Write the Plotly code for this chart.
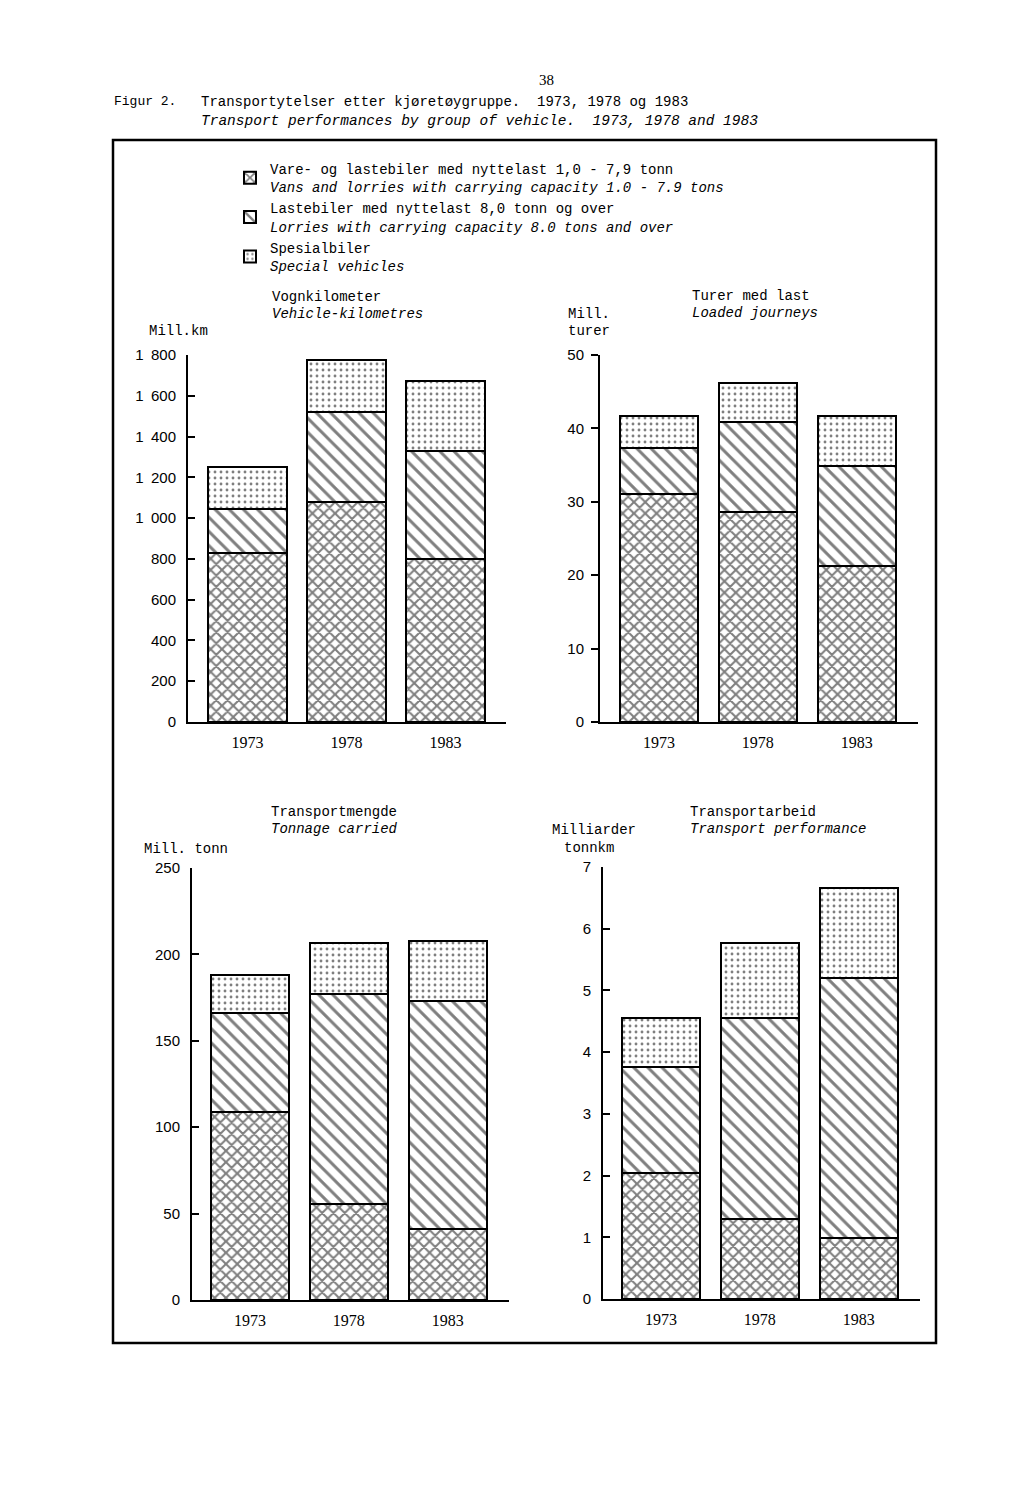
import plotly.graph_objects as go

W, H = 1024, 1487
OFF = 8  # page body margin offset

years = ["1973", "1978", "1983"]
series_names = [
    "Vare- og lastebiler med nyttelast 1,0 - 7,9 tonn<br><i>Vans and lorries with carrying capacity 1.0 - 7.9 tons</i>",
    "Lastebiler med nyttelast 8,0 tonn og over<br><i>Lorries with carrying capacity 8.0 tons and over</i>",
    "Spesialbiler<br><i>Special vehicles</i>",
]

# Vehicle-kilometres (mill. km)
vkm_small = [829, 1079, 799]
vkm_large = [216, 441, 530]
vkm_special = [206, 255, 343]

# Loaded journeys (mill. turer)
trips_small = [31.1, 28.6, 21.3]
trips_large = [6.2, 12.3, 13.6]
trips_special = [4.4, 5.3, 6.8]

# Tonnage carried (mill. tonn)
ton_small = [108.8, 55.6, 41.0]
ton_large = [57.2, 121.4, 132.0]
ton_special = [22.0, 29.6, 35.0]

# Transport performance (milliarder tonnkm)
tkm_small = [2.04, 1.30, 0.99]
tkm_large = [1.72, 3.25, 4.21]
tkm_special = [0.79, 1.22, 1.46]

vkm_ticks = [0, 200, 400, 600, 800, 1000, 1200, 1400, 1600, 1800]
vkm_ticktext = ["0", "200", "400", "600", "800", "1\u2002000", "1\u2002200", "1\u2002400", "1\u2002600", "1\u2002800"]
trips_ticks = [0, 10, 20, 30, 40, 50]
ton_ticks = [0, 50, 100, 150, 200, 250]
tkm_ticks = [0, 1, 2, 3, 4, 5, 6, 7]

patterns = [
    dict(shape="x", size=8, solidity=0.45, fgcolor="black", bgcolor="white"),
    dict(shape="\\", size=10, solidity=0.3, fgcolor="black", bgcolor="white"),
    dict(shape=".", size=6, solidity=0.18, fgcolor="black", bgcolor="white"),
]

MONO = "Liberation Mono"
SANS = "Liberation Sans"
SERIF = "Liberation Serif"


def px_x(p):
    return (p - OFF) / W


def px_y(p):
    return 1 - (p - OFF) / H


fig = go.Figure()

charts = [
    (vkm_small, vkm_large, vkm_special, "x", "y"),
    (trips_small, trips_large, trips_special, "x2", "y2"),
    (ton_small, ton_large, ton_special, "x3", "y3"),
    (tkm_small, tkm_large, tkm_special, "x4", "y4"),
]

for ci, (s1, s2, s3, xa, ya) in enumerate(charts):
    for si, vals in enumerate([s1, s2, s3]):
        fig.add_trace(go.Bar(
            x=[0, 1, 2], y=vals, xaxis=xa, yaxis=ya,
            name=series_names[si], legendgroup=str(si),
            showlegend=(ci == 0),
            width=0.79,
            marker=dict(color="white", pattern=patterns[si],
                        line=dict(color="black", width=2)),
            hoverinfo="skip",
        ))

axis_common = dict(showgrid=False, zeroline=False, showline=True, linecolor="black",
                   linewidth=2, automargin=False, fixedrange=True)

# (x-domain px, y-domain px (bottom, top), x range, y max, tickvals, ticktext, tick direction)
specs = [
    ((188, 506), (722, 355), (-0.60, 2.61), 1800, vkm_ticks, vkm_ticktext, "inside"),
    ((600, 918), (722, 355), (-0.596, 2.62), 50, trips_ticks, [str(t) for t in trips_ticks], "outside"),
    ((192, 509), (1300, 868), (-0.587, 2.62), 250, ton_ticks, [str(t) for t in ton_ticks], "inside"),
    ((603, 920), (1299, 867), (-0.586, 2.62), 7, tkm_ticks, [str(t) for t in tkm_ticks], "inside"),
]

layout_axes = {}
for i, (xd, yd, xr, ymax, tv, tt, tdir) in enumerate(specs):
    suf = "" if i == 0 else str(i + 1)
    layout_axes["xaxis" + suf] = dict(
        domain=[px_x(xd[0]), px_x(xd[1])], range=list(xr),
        anchor="y" + suf, tickvals=[0, 1, 2], ticktext=years, ticks="",
        ticklabelstandoff=5,
        tickfont=dict(family=SERIF, size=16, color="black"),
        **axis_common)
    layout_axes["yaxis" + suf] = dict(
        domain=[px_y(yd[0]), px_y(yd[1])], range=[0, ymax],
        anchor="x" + suf, tickvals=tv, ticktext=tt, ticks=tdir,
        ticklen=7, tickwidth=2, tickcolor="black",
        ticklabelstandoff=(7 if tdir == "inside" else 4),
        tickfont=dict(family=SANS, size=15, color="black"),
        **axis_common)

fig.update_layout(**layout_axes)

annotations = []


def text(px, py, s, size=14, family=MONO, anchor="left"):
    annotations.append(dict(
        x=px_x(px), y=px_y(py), xref="paper", yref="paper", text=s,
        showarrow=False, xanchor=anchor, yanchor="middle",
        font=dict(family=family, size=size, color="black")))


text(546, 80, "38", size=15, family=SERIF, anchor="center")
text(112, 102, "Figur 2.", size=13)
text(199, 102, "Transportytelser etter kjøretøygruppe.  1973, 1978 og 1983", size=14)
text(199, 121, "<i>Transport performances by group of vehicle.  1973, 1978 and 1983</i>", size=14.5)

text(270, 297, "Vognkilometer")
text(270, 314, "<i>Vehicle-kilometres</i>")
text(147, 331, "Mill.km")

text(690, 296, "Turer med last")
text(690, 313, "<i>Loaded journeys</i>")
text(566, 314, "Mill.")
text(566, 331, "turer")

text(269, 812, "Transportmengde")
text(269, 829, "<i>Tonnage carried</i>")
text(142, 849, "Mill. tonn")

text(688, 812, "Transportarbeid")
text(688, 829, "<i>Transport performance</i>")
text(550, 830, "Milliarder")
text(562, 848, "tonnkm")

fig.update_layout(
    width=W, height=H,
    margin=dict(l=0, r=0, t=0, b=0, autoexpand=False),
    paper_bgcolor="white", plot_bgcolor="white",
    barmode="stack", bargap=0.2,
    showlegend=True,
    legend=dict(x=px_x(230), y=px_y(153), xanchor="left", yanchor="top",
                bgcolor="rgba(0,0,0,0)", traceorder="normal",
                font=dict(family=MONO, size=14, color="black"),
                itemwidth=30, tracegroupgap=0),
    annotations=annotations,
    shapes=[dict(type="rect", xref="paper", yref="paper",
                 x0=px_x(113), x1=px_x(936), y0=px_y(1343), y1=px_y(140),
                 line=dict(color="black", width=2.5))],
)

fig.write_html("out.html")
